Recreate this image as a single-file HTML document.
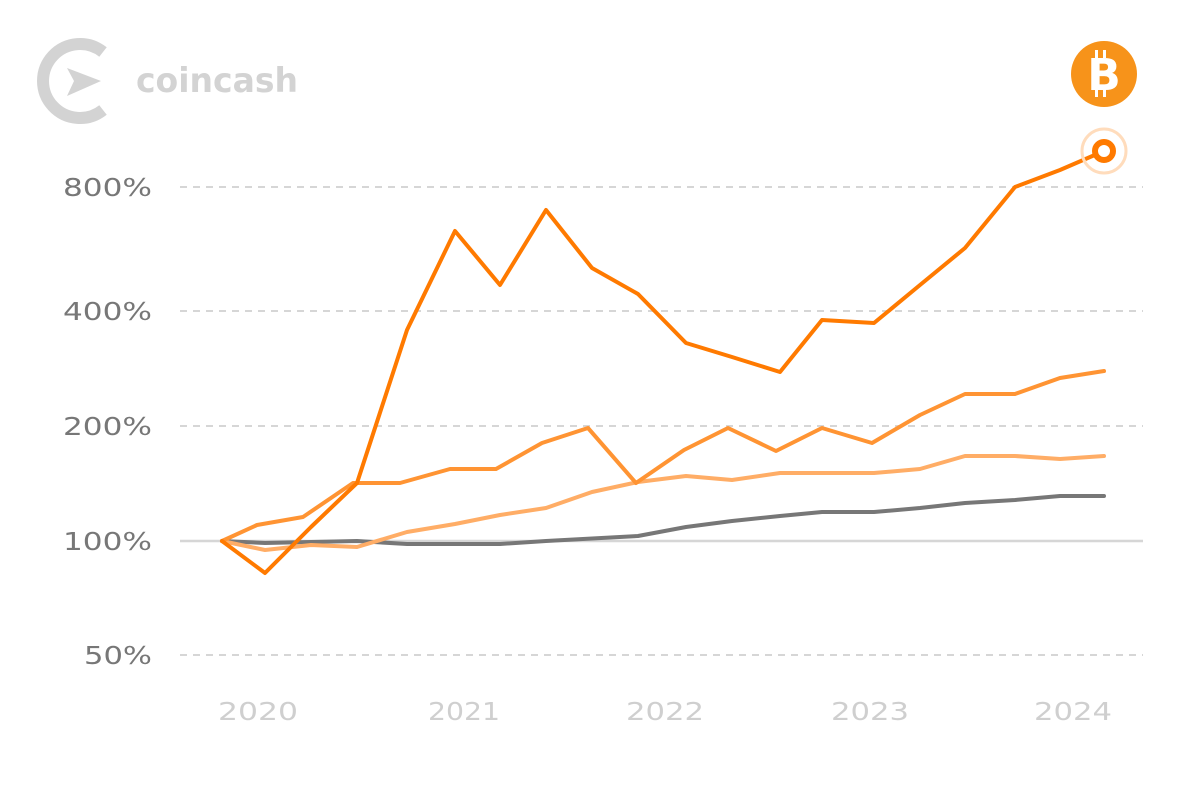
<!DOCTYPE html>
<html><head><meta charset="utf-8"><style>
html,body{margin:0;padding:0;background:#fff}
svg{display:block}
text{font-family:"DejaVu Sans","Liberation Sans",sans-serif}
</style></head><body>
<svg width="1200" height="801" viewBox="0 0 1200 801" xmlns="http://www.w3.org/2000/svg">
<path d="M103 52 A37 37 0 1 0 103 110" fill="none" stroke="#d3d3d3" stroke-width="12"/>
<polygon points="67,68 101,81 67,96 74,81" fill="#d3d3d3"/>
<text x="136" y="92" font-size="34" font-weight="bold" fill="#d3d3d3" textLength="162" lengthAdjust="spacingAndGlyphs">coincash</text>
<circle cx="1104" cy="74" r="33" fill="#f7931a"/>
<text x="1104" y="90" font-size="44" font-weight="bold" fill="#fff" text-anchor="middle" font-family="Liberation Sans">B</text>
<rect x="1095" y="50" width="3" height="8" fill="#fff"/><rect x="1103" y="50" width="3" height="8" fill="#fff"/>
<rect x="1095" y="89" width="3" height="8" fill="#fff"/><rect x="1103" y="89" width="3" height="8" fill="#fff"/>
<g stroke="#d6d6d6" stroke-width="2" stroke-dasharray="7,6">
<line x1="180" y1="187" x2="1143" y2="187"/>
<line x1="180" y1="311" x2="1143" y2="311"/>
<line x1="180" y1="426" x2="1143" y2="426"/>
<line x1="180" y1="655" x2="1143" y2="655"/>
</g>
<line x1="180" y1="541" x2="1143" y2="541" stroke="#d6d6d6" stroke-width="2.5"/>
<g font-size="25" fill="#777">
<text x="63" y="196" textLength="89" lengthAdjust="spacingAndGlyphs">800%</text>
<text x="63" y="320" textLength="89" lengthAdjust="spacingAndGlyphs">400%</text>
<text x="63" y="435" textLength="89" lengthAdjust="spacingAndGlyphs">200%</text>
<text x="63" y="550" textLength="89" lengthAdjust="spacingAndGlyphs">100%</text>
<text x="84" y="664" textLength="68" lengthAdjust="spacingAndGlyphs">50%</text>
</g>
<g font-size="25" fill="#cfcfcf">
<text x="218" y="720" textLength="80" lengthAdjust="spacingAndGlyphs">2020</text>
<text x="428" y="720" textLength="72" lengthAdjust="spacingAndGlyphs">2021</text>
<text x="626" y="720" textLength="78" lengthAdjust="spacingAndGlyphs">2022</text>
<text x="831" y="720" textLength="78" lengthAdjust="spacingAndGlyphs">2023</text>
<text x="1034" y="720" textLength="78" lengthAdjust="spacingAndGlyphs">2024</text>
</g>
<g fill="none" stroke-width="4" stroke-linejoin="round" stroke-linecap="round">
<polyline stroke="#777" points="222,541 265,543 357,541 407,544 500,544 546,541 638,536 686,527 732,521 780,516 822,512 874,512 920,508 965,503 1015,500 1060,496 1104,496"/>
<polyline stroke="#ffad66" points="222,541 265,550 311,545 357,547 407,532 455,524 500,515 546,508 592,492 638,482 686,476 732,480 780,473 822,473 874,473 920,469 965,456 1015,456 1060,459 1104,456"/>
<polyline stroke="#ff9433" points="222,541 257,525 303,517 353,483 400,483 450,469 496,469 542,443 588,428 636,483 684,450 728,428 776,451 822,428 872,443 920,415 965,394 1015,394 1060,378 1104,371"/>
<polyline stroke="#ff7a00" points="222,541 265,573 311,527 357,483 407,330 455,231 500,285 546,210 592,268 638,294 686,343 732,357 780,372 822,320 874,323 920,285 965,248 1015,187 1060,170 1104,151"/>
</g>
<circle cx="1104" cy="151" r="22" fill="none" stroke="#ffdcbc" stroke-width="3"/>
<circle cx="1104" cy="151" r="9" fill="#fff" stroke="#ff7a00" stroke-width="6"/>
</svg>
</body></html>
